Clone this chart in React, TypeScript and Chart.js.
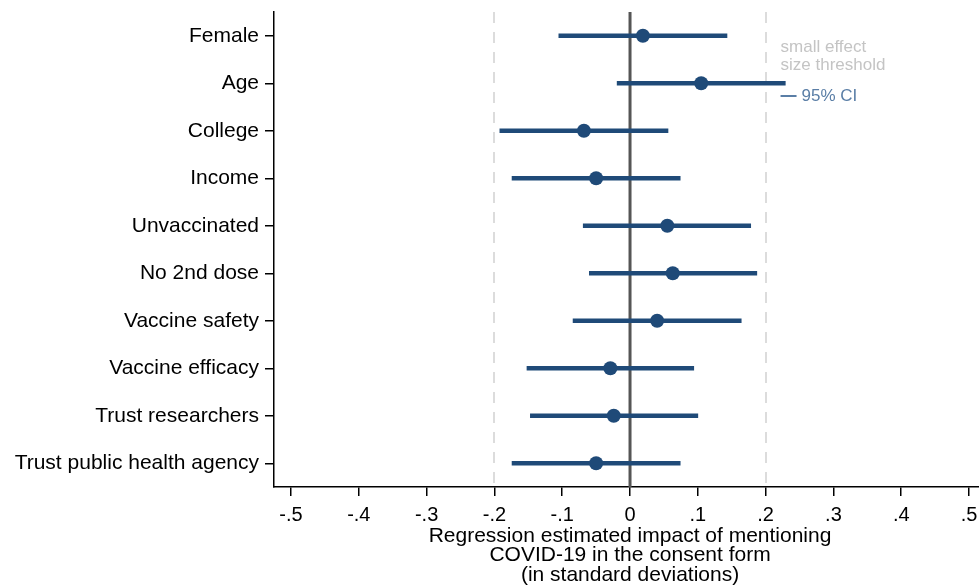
import React, { useEffect, useRef } from 'react';
import { Chart, registerables } from 'chart.js';
Chart.register(...registerables);

const categories = [
  'Female', 'Age', 'College', 'Income', 'Unvaccinated', 'No 2nd dose',
  'Vaccine safety', 'Vaccine efficacy', 'Trust researchers', 'Trust public health agency',
];
const estimates = [0.019, 0.105, -0.068, -0.05, 0.055, 0.063, 0.04, -0.029, -0.024, -0.05];
const ciLow = [-0.105, -0.019, -0.192, -0.174, -0.069, -0.06, -0.084, -0.152, -0.147, -0.174];
const ciHigh = [0.143, 0.229, 0.056, 0.074, 0.178, 0.187, 0.164, 0.094, 0.1, 0.074];
const xTicks = [-0.5, -0.4, -0.3, -0.2, -0.1, 0, 0.1, 0.2, 0.3, 0.4, 0.5];
const thresholds = [-0.2, 0.2];
const axisTitle = ['Regression estimated impact of mentioning', 'COVID-19 in the consent form', '(in standard deviations)'];
const legendThreshold = ['small effect', 'size threshold'];
const legendCI = '95% CI';

const FONT = '"Liberation Sans", Arial, sans-serif';
const NAVY = '#1f4a78';

function fmt(v: number): string {
  if (Math.abs(v) < 1e-9) return '0';
  return (v < 0 ? '-' : '') + '.' + Math.round(Math.abs(v) * 10);
}

const overlay = {
  id: 'overlay',
  beforeDatasetsDraw(chart: any) {
    const { ctx, chartArea, scales } = chart;
    const x = scales.x;
    ctx.save();
    ctx.strokeStyle = '#dcdcdc';
    ctx.lineWidth = 2;
    ctx.setLineDash([11, 9]);
    thresholds.forEach((t) => {
      const px = Math.round(x.getPixelForValue(t));
      ctx.beginPath();
      ctx.moveTo(px, chartArea.top);
      ctx.lineTo(px, chartArea.bottom);
      ctx.stroke();
    });
    ctx.setLineDash([]);
    ctx.strokeStyle = '#555555';
    ctx.lineWidth = 3;
    const z = x.getPixelForValue(0);
    ctx.beginPath();
    ctx.moveTo(z, chartArea.top);
    ctx.lineTo(z, chartArea.bottom);
    ctx.stroke();
    ctx.restore();
  },
  afterDraw(chart: any) {
    const { ctx, scales } = chart;
    const x = scales.x;
    ctx.save();
    ctx.fillStyle = '#000';
    ctx.font = `21px ${FONT}`;
    ctx.textAlign = 'center';
    ctx.textBaseline = 'middle';
    const cx = x.getPixelForValue(0);
    axisTitle.forEach((line, i) => ctx.fillText(line, cx, 536 + i * 19.7));
    const lx = x.getPixelForValue(0.222);
    ctx.textAlign = 'left';
    ctx.font = `17px ${FONT}`;
    ctx.fillStyle = '#c4c4c4';
    legendThreshold.forEach((line, i) => ctx.fillText(line, lx, 47 + i * 18));
    ctx.strokeStyle = '#5a7ea6';
    ctx.lineWidth = 2;
    ctx.beginPath();
    ctx.moveTo(lx, 96);
    ctx.lineTo(lx + 16, 96);
    ctx.stroke();
    ctx.fillStyle = '#5a7ea6';
    ctx.fillText(legendCI, lx + 21, 96);
    ctx.restore();
  },
};

export default function App() {
  const ref = useRef<HTMLCanvasElement>(null);
  useEffect(() => {
    document.body.style.margin = '0';
    const chart = new Chart(ref.current!, {
      type: 'bar',
      data: {
        labels: categories,
        datasets: [
          {
            type: 'bar',
            data: categories.map((_, i) => [ciLow[i], ciHigh[i]]) as any,
            backgroundColor: NAVY,
            barThickness: 4,
            borderSkipped: false,
          } as any,
          {
            type: 'line',
            indexAxis: 'y',
            data: categories.map((c, i) => ({ x: estimates[i], y: c })) as any,
            showLine: false,
            pointRadius: 7,
            pointBackgroundColor: NAVY,
            pointBorderColor: NAVY,
            pointBorderWidth: 0,
          } as any,
        ],
      },
      options: {
        animation: false,
        responsive: false,
        indexAxis: 'y',
        layout: { autoPadding: false, padding: { top: 12, left: 0, right: 0, bottom: 0 } },
        plugins: { legend: { display: false }, tooltip: { enabled: false } },
        scales: {
          x: {
            type: 'linear',
            min: -0.5251,
            max: 0.5147,
            afterBuildTicks: (s: any) => { s.ticks = xTicks.map((v) => ({ value: v })); },
            afterFit: (s: any) => { s.height = 100; s.paddingLeft = 0; s.paddingRight = 0; },
            ticks: {
              autoSkip: false,
              maxRotation: 0,
              color: '#000',
              padding: 7,
              font: { family: FONT, size: 20 },
              callback: (v: any) => fmt(Number(v)),
            },
            grid: { drawOnChartArea: false, tickLength: 9, color: '#000', lineWidth: 1.5 },
            border: { color: '#000', width: 1.5 },
          },
          y: {
            type: 'category',
            afterFit: (s: any) => { s.width = 274; s.paddingTop = 0; s.paddingBottom = 0; },
            ticks: {
              color: '#000',
              padding: 6,
              font: { family: FONT, size: 21 },
            },
            grid: { drawOnChartArea: false, tickLength: 9, color: '#000', lineWidth: 1.5, offset: false },
            border: { color: '#000', width: 1.5 },
          },
        },
      },
      plugins: [overlay],
    });
    return () => chart.destroy();
  }, []);
  return (
    <div style={{ width: 979, height: 587 }}>
      <canvas ref={ref} width={979} height={587} style={{ display: 'block' }} />
    </div>
  );
}
